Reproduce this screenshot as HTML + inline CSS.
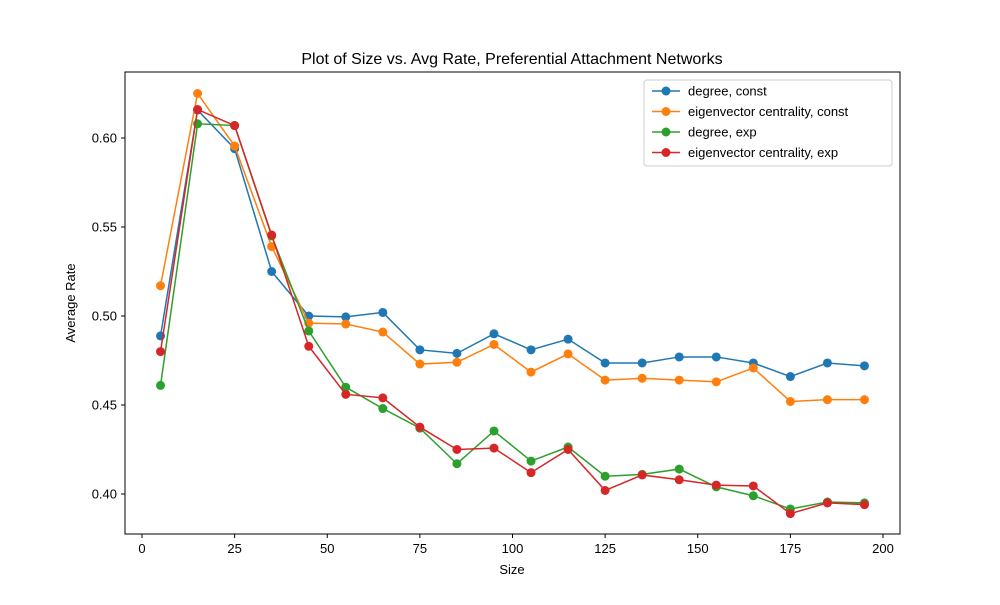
<!DOCTYPE html>
<html><head><meta charset="utf-8"><style>body{margin:0;background:#fff}svg{font-family:"Liberation Sans","DejaVu Sans",sans-serif}</style></head>
<body>
<svg id="chart" width="1000" height="600"></svg>
<script>
const sizes=[5,15,25,35,45,55,65,75,85,95,105,115,125,135,145,155,165,175,185,195];
const degreeConst=[0.4888,0.6157,0.594,0.525,0.500,0.4995,0.502,0.481,0.479,0.490,0.481,0.487,0.4736,0.4736,0.477,0.477,0.4736,0.466,0.4736,0.472];
const eigConst=[0.517,0.625,0.5955,0.539,0.496,0.4955,0.491,0.473,0.474,0.484,0.4685,0.4787,0.464,0.465,0.464,0.463,0.4708,0.452,0.453,0.453];
const degreeExp=[0.461,0.608,0.607,0.545,0.4916,0.460,0.448,0.437,0.417,0.4354,0.4185,0.4264,0.410,0.411,0.414,0.404,0.399,0.3916,0.3955,0.395];
const eigExp=[0.480,0.616,0.607,0.5455,0.483,0.456,0.454,0.4376,0.425,0.4258,0.412,0.425,0.402,0.4107,0.408,0.405,0.4045,0.389,0.395,0.394];
const xTicks=[0,25,50,75,100,125,150,175,200];
const yTicks=[0.40,0.45,0.50,0.55,0.60];
const seriesNames=["degree, const","eigenvector centrality, const","degree, exp","eigenvector centrality, exp"];
const colors=["#1f77b4","#ff7f0e","#2ca02c","#d62728"];
const series=[degreeConst,eigConst,degreeExp,eigExp];
const NS="http://www.w3.org/2000/svg";
const svg=document.getElementById('chart');
function X(v){return 142+v*3.705;}
function Y(v){return 494-(v-0.4)*1780;}
function el(t,a,p){const e=document.createElementNS(NS,t);for(const k in a)e.setAttribute(k,a[k]);(p||svg).appendChild(e);return e;}
let r=el('rect',{x:125,y:72,width:775,height:462,fill:'none',stroke:'#000','stroke-width':1});


xTicks.forEach(t=>{
 const l=el('line',{x1:X(t),x2:X(t),y1:534,y2:538,stroke:'#000'});
 
 
 const tx=el('text',{x:X(t),y:553,'text-anchor':'middle','font-size':13});tx.textContent=t;
 
 
});
yTicks.forEach(t=>{
 const l=el('line',{x1:121,x2:125,y1:Y(t),y2:Y(t),stroke:'#000'});
 
 
 const tx=el('text',{x:117,y:Y(t)+4.5,'text-anchor':'end','font-size':13});tx.textContent=t.toFixed(2);
 
 
});
series.forEach((s,i)=>{
 const g=el('g',{});
 
 
 const pl=el('polyline',{points:s.map((v,j)=>X(sizes[j])+','+Y(v)).join(' '),fill:'none',stroke:colors[i],'stroke-width':1.5},g);
 
 
 s.forEach((v,j)=>{const c=el('circle',{cx:X(sizes[j]),cy:Y(v),r:4.5,fill:colors[i]},g);
  
  });
});
const lg=el('g',{});


el('rect',{x:644,y:80,width:248,height:86,rx:3,fill:'#fff',stroke:'#ccc'},lg);
seriesNames.forEach((n,i)=>{
 const y=91+i*20.5;
 el('line',{x1:652,x2:680,y1:y,y2:y,stroke:colors[i],'stroke-width':1.5},lg);
 el('circle',{cx:666,cy:y,r:4.5,fill:colors[i]},lg);
 const t=el('text',{x:688,y:y+4.5,'font-size':13},lg);t.textContent=n;
 
 
});
const ti=el('text',{x:512,y:64,'text-anchor':'middle','font-size':16});ti.textContent='Plot of Size vs. Avg Rate, Preferential Attachment Networks';


const xl=el('text',{x:512,y:574,'text-anchor':'middle','font-size':13});xl.textContent='Size';


const yl=el('text',{x:75,y:303,'text-anchor':'middle','font-size':13,transform:'rotate(-90 75 303)'});yl.textContent='Average Rate';


</script>
</body></html>
